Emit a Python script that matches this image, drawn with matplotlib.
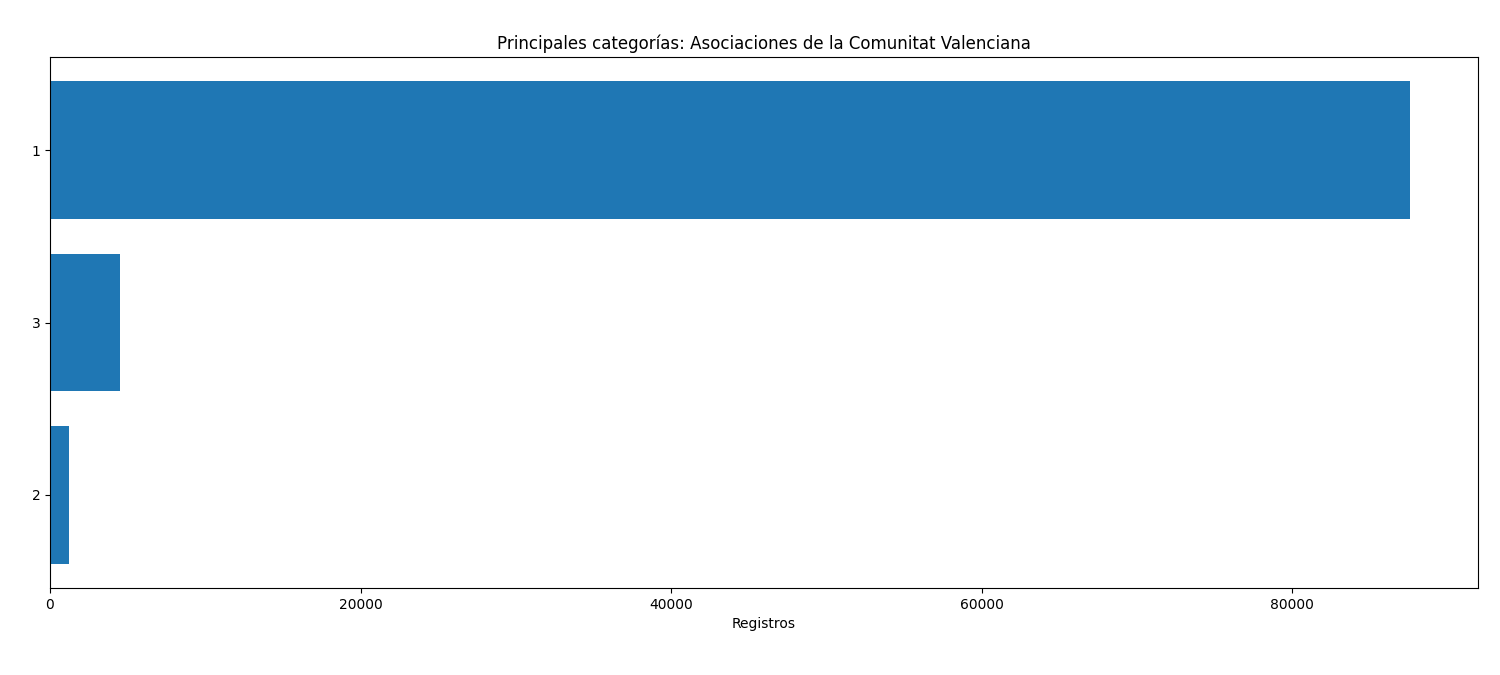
import matplotlib
matplotlib.use("Agg")
import matplotlib.pyplot as plt

categories = ["1", "3", "2"]
values = [87600, 4500, 1200]

fig, ax = plt.subplots(figsize=(15, 6.75), dpi=100)
ax.barh(categories[::-1], values[::-1], color="#1f77b4")
ax.set_xlabel("Registros")
ax.set_title("Principales categorías: Asociaciones de la Comunitat Valenciana")
fig.subplots_adjust(left=50/1500, right=1478/1500, top=1-57/675, bottom=1-588/675)
fig.savefig("out.png")
